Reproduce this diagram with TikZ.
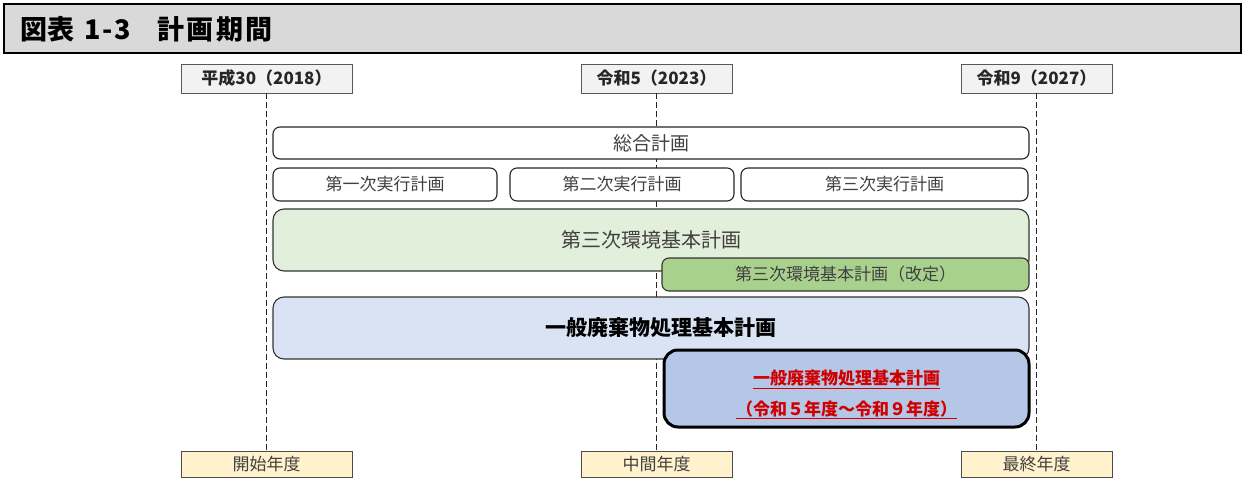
\documentclass[tikz,border=0pt]{standalone}
\usepackage{fontspec}
\setmainfont{Noto Sans CJK JP}
\definecolor{titlegray}{HTML}{D9D9D9}
\definecolor{yeargray}{HTML}{F2F2F2}
\definecolor{endyellow}{HTML}{FFF2CC}
\definecolor{envgreen}{HTML}{E2EFDA}
\definecolor{kaigreen}{HTML}{A9D18E}
\definecolor{wasteblue}{HTML}{DAE3F3}
\definecolor{newblue}{HTML}{B4C7E7}
\definecolor{txtgray}{HTML}{404040}
\definecolor{redtxt}{HTML}{D00000}
\newcommand{\fsz}[1]{\fontsize{#1pt}{#1pt}\selectfont}
\tikzset{
  yearbox/.style={draw=black!65, fill=yeargray, line width=0.9pt, inner sep=0pt, font=\fsz{17}\bfseries, text=black!85},
  endbox/.style={draw=black!70, fill=endyellow, line width=0.9pt, inner sep=0pt, font=\fsz{17}, text=txtgray},
  planbox/.style={draw=black!85, fill=white, line width=1.1pt, rounded corners=7pt, inner sep=0pt, font=\fsz{17}, text=txtgray},
  bigbox/.style={draw=black!80, line width=1.1pt, rounded corners=11pt, inner sep=0pt, text=txtgray},
  guide/.style={black!85, line width=1.1pt, dash pattern=on 6pt off 3pt},
}
\begin{document}
\begin{tikzpicture}[x=1pt,y=-1pt]
\useasboundingbox (0,0) rectangle (1243,477);
% title bar
\node[draw=black, line width=1.8pt, fill=titlegray, minimum width=1237pt, minimum height=49pt, inner sep=0pt] (titlebar) at (622.5,28.5) {};
\node[anchor=west, inner sep=0pt, font=\fsz{27}\bfseries] (titletext) at (20,29) {図表\hspace{10pt}1\hspace{2pt}-\hspace{2pt}3\hspace{26pt}計\hspace{2.5pt}画\hspace{2.5pt}期\hspace{2.5pt}間};
% year boxes
\node[yearbox, minimum width=171pt, minimum height=29pt] (y1) at (266.5,78.5) {平成30（2018）};
\node[yearbox, minimum width=151pt, minimum height=29pt] (y2) at (656.5,78.5) {令和5（2023）};
\node[yearbox, minimum width=151pt, minimum height=29pt] (y3) at (1036.5,78.5) {令和9（2027）};
% bottom boxes
\node[endbox, minimum width=171pt, minimum height=26pt] (b1) at (266.5,464.5) {開始年度};
\node[endbox, minimum width=151pt, minimum height=26pt] (b2) at (656.5,464.5) {中間年度};
\node[endbox, minimum width=151pt, minimum height=26pt] (b3) at (1036.5,464.5) {最終年度};
% guides
\draw[guide] (y1.south) -- (b1.north);
\draw[guide] (y2.south) -- (b2.north);
\draw[guide] (y3.south) -- (b3.north);
% plans
\node[planbox, minimum width=756pt, minimum height=32pt, font=\fsz{19}] (sogo) at (651,143) {総合計画};
\node[planbox, minimum width=224pt, minimum height=33pt] (j1) at (385,184.5) {第一次実行計画};
\node[planbox, minimum width=224pt, minimum height=33pt] (j2) at (622,184.5) {第二次実行計画};
\node[planbox, minimum width=287pt, minimum height=33pt] (j3) at (884.5,184.5) {第三次実行計画};
\node[bigbox, fill=envgreen, minimum width=756pt, minimum height=62pt, font=\fsz{20}] (env) at (651,240) {\raisebox{-2pt}{第三次環境基本計画}};
\node[bigbox, fill=kaigreen, rounded corners=7pt, minimum width=367pt, minimum height=33pt, font=\fsz{17}] (kai) at (845.5,274.5) {第三次環境基本計画（改定）};
\node[bigbox, fill=wasteblue, minimum width=756pt, minimum height=62pt, font=\fsz{21}\bfseries, text=black] (waste) at (651,328) {\hspace{20pt}一般廃棄物処理基本計画};
\node[draw=black, line width=3pt, fill=newblue, rounded corners=14pt, minimum width=365pt, minimum height=77pt, inner sep=0pt, align=center, text=redtxt, font=\fsz{17}\bfseries] (newplan) at (846.5,388.5)
  {\rule{0pt}{27pt}\underline{一般廃棄物処理基本計画}\\[11pt]\underline{（令和５年度～令和９年度）}};
\end{tikzpicture}
\end{document}
